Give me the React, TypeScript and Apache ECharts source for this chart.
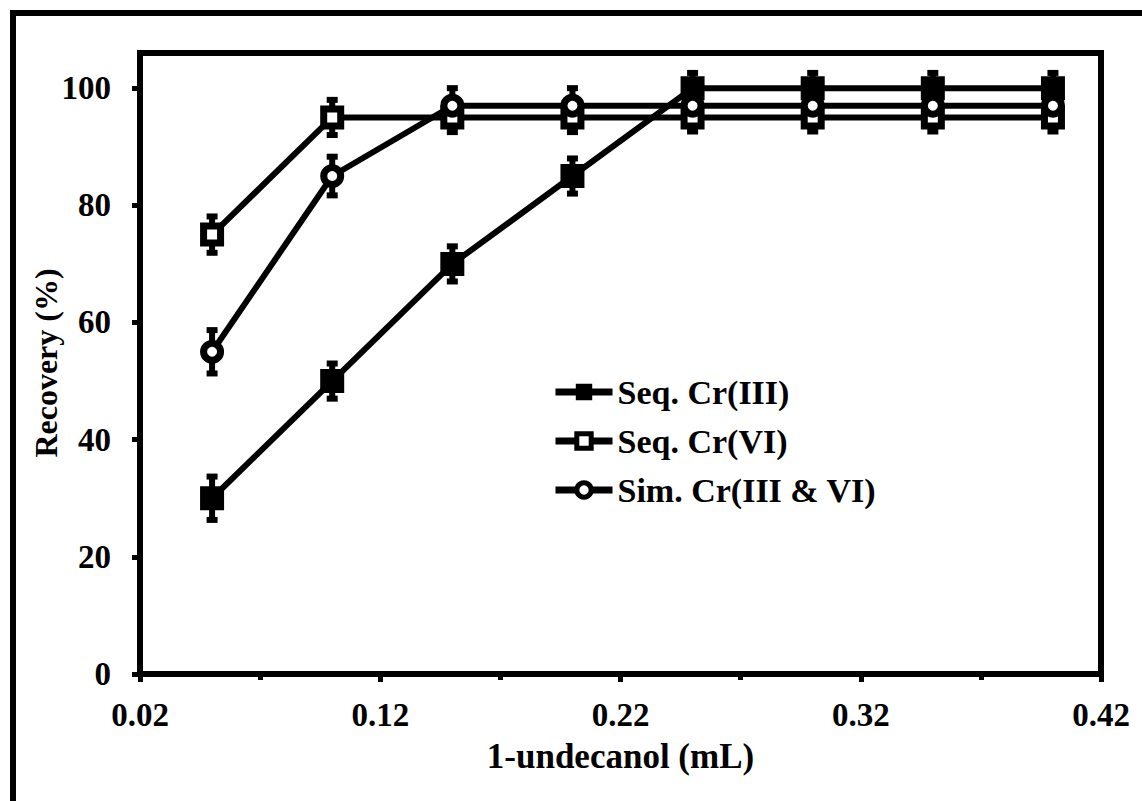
import React, { useEffect, useRef } from "react";
import * as echarts from "echarts";

const xValues = [0.05, 0.1, 0.15, 0.2, 0.25, 0.3, 0.35, 0.4];
const seqCr3 = [30, 50, 70, 85, 100, 100, 100, 100];
const seqCr6 = [75, 95, 95, 95, 95, 95, 95, 95];
const simCr = [55, 85, 97, 97, 97, 97, 97, 97];
const errCr3 = [3.7, 3, 3, 3, 2.6, 2.6, 2.6, 2.6];
const errCr6 = [3.1, 3, 2.5, 2.5, 2.4, 2.4, 2.4, 2.4];
const errSim = [3.7, 3.3, 3, 3, 3, 3, 3, 3];
const xTickLabels = [0.02, 0.12, 0.22, 0.32, 0.42];
const xMinorTicks = [0.07, 0.17, 0.27, 0.37];
const yTickLabels = [0, 20, 40, 60, 80, 100];
const legendNames = ["Seq. Cr(III)", "Seq. Cr(VI)", "Sim. Cr(III & VI)"];
const xTitle = "1-undecanol (mL)";
const yTitle = "Recovery (%)";

const FONT = "Liberation Serif";

function pairs(vals: number[]) {
  return xValues.map((x, i) => [x, vals[i]]);
}
function errData(vals: number[], errs: number[]) {
  return xValues.map((x, i) => [x, vals[i] - errs[i], vals[i] + errs[i]]);
}

function errSeries(name: string, vals: number[], errs: number[]) {
  return {
    type: "custom",
    name: name + " err",
    z: 1,
    data: errData(vals, errs),
    renderItem: (params: any, api: any) => {
      const x = api.value(0);
      const lo = api.coord([x, api.value(1)]);
      const hi = api.coord([x, api.value(2)]);
      const st = { stroke: "#000", lineWidth: 6 };
      const cw = 5.5;
      return {
        type: "group",
        children: [
          { type: "line", shape: { x1: lo[0], y1: lo[1], x2: hi[0], y2: hi[1] }, style: st },
          { type: "line", shape: { x1: lo[0] - cw, y1: lo[1], x2: lo[0] + cw, y2: lo[1] }, style: st },
          { type: "line", shape: { x1: hi[0] - cw, y1: hi[1], x2: hi[0] + cw, y2: hi[1] }, style: st },
        ],
      };
    },
  };
}

export default function App() {
  const ref = useRef<HTMLDivElement>(null);
  useEffect(() => {
    if (!ref.current) return;
    const chart = echarts.init(ref.current, null, { renderer: "svg" });
    const lineStyle = { color: "#000", width: 6 };
    chart.setOption({
      animation: false,
      backgroundColor: "#fff",
      textStyle: { fontFamily: FONT },
      graphic: [
        {
          type: "rect",
          shape: { x: 13, y: 13, width: 1300, height: 900 },
          style: { fill: "none", stroke: "#000", lineWidth: 6 },
          silent: true,
        },
        {
          type: "text",
          x: 46,
          y: 363,
          rotation: Math.PI / 2,
          silent: true,
          style: {
            text: yTitle,
            fontFamily: FONT,
            fontWeight: "bold",
            fontSize: 32,
            fill: "#000",
            align: "center",
            verticalAlign: "middle",
          },
        },
      ],
      grid: {
        left: 140,
        right: 41,
        top: 53,
        bottom: 127,
        show: true,
        borderColor: "#000",
        borderWidth: 6,
        backgroundColor: "transparent",
      },
      legend: {
        orient: "vertical",
        left: 547,
        top: 370,
        itemWidth: 57,
        itemHeight: 18,
        itemGap: 15,
        lineStyle: { width: 7, color: "#000" },
        data: [
          { name: legendNames[0], itemStyle: { borderWidth: 2 } },
          { name: legendNames[1], itemStyle: { borderWidth: 5 } },
          { name: legendNames[2], itemStyle: { borderWidth: 5 } },
        ],
        textStyle: { fontFamily: FONT, fontWeight: "bold", fontSize: 34, lineHeight: 34, color: "#000" },
      },
      xAxis: [
        {
          type: "value",
          min: 0.02,
          max: 0.42,
          name: xTitle,
          nameLocation: "middle",
          nameGap: 65,
          nameTextStyle: { fontFamily: FONT, fontWeight: "bold", fontSize: 35, color: "#000" },
          axisLine: { show: true, lineStyle: { color: "#000", width: 6 } },
          axisTick: { show: true, length: 8, lineStyle: { color: "#000", width: 5 }, customValues: xTickLabels },
          axisLabel: {
            customValues: xTickLabels,
            formatter: (v: number) => v.toFixed(2),
            margin: 24,
            fontFamily: FONT,
            fontWeight: "bold",
            fontSize: 33,
            color: "#000",
          },
          splitLine: { show: false },
        },
        {
          type: "value",
          min: 0.02,
          max: 0.42,
          position: "bottom",
          axisLine: { show: false },
          axisTick: { show: true, length: 6, inside: false, lineStyle: { color: "#000", width: 5 }, customValues: xMinorTicks },
          axisLabel: { show: false },
          splitLine: { show: false },
        },
      ],
      yAxis: {
        type: "value",
        min: 0,
        max: 106,
        axisLine: { show: true, lineStyle: { color: "#000", width: 6 } },
        axisTick: { show: true, length: 8, lineStyle: { color: "#000", width: 5 }, customValues: yTickLabels },
        axisLabel: {
          customValues: yTickLabels,
          margin: 29,
          fontFamily: FONT,
          fontWeight: "bold",
          fontSize: 33,
          color: "#000",
        },
        splitLine: { show: false },
      },
      series: [
        errSeries(legendNames[0], seqCr3, errCr3),
        errSeries(legendNames[1], seqCr6, errCr6),
        errSeries(legendNames[2], simCr, errSim),
        {
          type: "line",
          name: legendNames[0],
          z: 3,
          data: pairs(seqCr3),
          symbol: "rect",
          symbolSize: 22,
          lineStyle,
          itemStyle: { color: "#000", borderColor: "#000", borderWidth: 2 },
        },
        {
          type: "line",
          name: legendNames[1],
          z: 4,
          data: pairs(seqCr6),
          symbol: "rect",
          symbolSize: 17,
          lineStyle,
          itemStyle: { color: "#fff", borderColor: "#000", borderWidth: 7 },
        },
        {
          type: "line",
          name: legendNames[2],
          z: 5,
          data: pairs(simCr),
          symbol: "circle",
          symbolSize: 17,
          lineStyle,
          itemStyle: { color: "#fff", borderColor: "#000", borderWidth: 7 },
        },
      ],
    });
    return () => chart.dispose();
  }, []);
  return (
    <div
      ref={ref}
      style={{ position: "fixed", left: 0, top: 0, width: 1142, height: 801 }}
    />
  );
}
